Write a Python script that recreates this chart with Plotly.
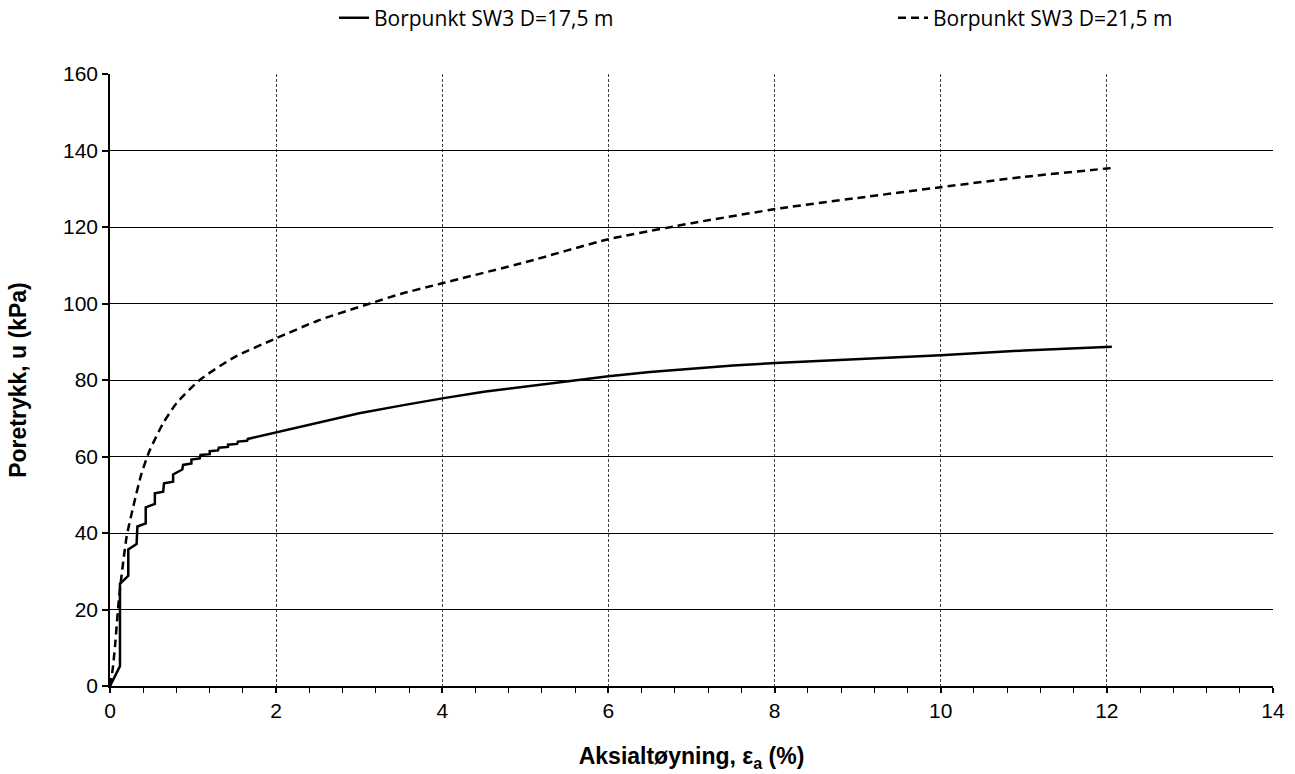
import plotly.graph_objects as go

# Series 1: Borpunkt SW3 D=17,5 m (solid, step-like at start)
x_175 = [0.0, 0.12, 0.12, 0.22, 0.22, 0.32, 0.33, 0.43, 0.43, 0.54, 0.54, 0.64, 0.65,
         0.76, 0.76, 0.87, 0.88, 0.98, 0.98, 1.08, 1.09, 1.20, 1.20, 1.30, 1.31, 1.42,
         1.42, 1.53, 1.54, 1.65, 1.66, 2.0, 2.5, 3.0, 3.5, 4.0, 4.5, 5.0, 5.58, 6.0,
         6.5, 7.0, 7.5, 8.07, 9.0, 10.0, 11.0, 12.0, 12.06]
u_175 = [0.0, 5.2, 26.7, 28.8, 35.7, 37.1, 41.7, 42.5, 46.7, 47.6, 50.4, 50.8, 53.0,
         53.4, 55.3, 56.6, 57.8, 58.2, 59.2, 59.5, 60.4, 60.6, 61.4, 61.6, 62.3, 62.5,
         63.1, 63.3, 63.9, 64.1, 64.6, 66.3, 68.9, 71.3, 73.3, 75.2, 76.9, 78.3, 80.0, 81.0,
         82.1, 83.0, 83.8, 84.5, 85.4, 86.5, 87.7, 88.6, 88.7]

# Series 2: Borpunkt SW3 D=21,5 m (dashed)
x_215 = [0.0, 0.03, 0.06, 0.11, 0.20, 0.28, 0.38, 0.48, 0.64, 0.80, 1.08, 1.5, 2.0, 2.5,
         3.13, 3.5, 4.0, 5.0, 6.0, 6.78, 7.0, 8.07, 9.0, 10.0, 11.0, 12.0, 12.1]
u_215 = [0.0, 4.0, 10.3, 23.3, 39.0, 46.9, 55.6, 61.7, 68.7, 73.9, 80.0, 86.0, 90.9, 95.5,
         100.0, 102.5, 105.3, 110.8, 116.8, 120.1, 121.0, 124.9, 127.6, 130.4, 133.1, 135.3, 135.5]

names = ["Borpunkt SW3 D=17,5 m", "Borpunkt SW3 D=21,5 m"]

x_ticks = [0, 2, 4, 6, 8, 10, 12, 14]
y_ticks = [0, 20, 40, 60, 80, 100, 120, 140, 160]

fig = go.Figure()
fig.add_trace(go.Scatter(x=x_175, y=u_175, mode="lines", name=names[0],
                         line=dict(color="black", width=2.5)))
fig.add_trace(go.Scatter(x=x_215, y=u_215, mode="lines", name=names[1],
                         line=dict(color="black", width=2.5, dash="8px,5px", shape="spline", smoothing=0.6)))

tickfont = dict(family="Arial, Liberation Sans, sans-serif", size=21, color="black")
titlefont = dict(family="Arial, Liberation Sans, sans-serif", size=23, color="black")

fig.update_layout(
    width=1295, height=774,
    margin=dict(l=110, r=22, t=74, b=88, autoexpand=False),
    paper_bgcolor="white", plot_bgcolor="white",
    showlegend=True,
    legend=dict(orientation="h", x=0.1926, xanchor="left", y=1.0915, yanchor="middle",
                font=dict(family="Open Sans, Noto Sans, sans-serif", size=21, color="black"),
                entrywidth=514, entrywidthmode="pixels", bgcolor="rgba(0,0,0,0)"),
    xaxis=dict(range=[0, 14], tickvals=x_ticks, ticktext=[str(v) for v in x_ticks],
               showgrid=True, gridcolor="#444444", gridwidth=1, griddash="3px,2px",
               showline=True, linecolor="black", linewidth=1.5, zeroline=False,
               ticks="outside", ticklen=5, tickwidth=1.5, tickcolor="black",
               minor=dict(dtick=0.4, tick0=0, ticks="outside", ticklen=5, tickwidth=1, tickcolor="black", showgrid=False),
               tickfont=tickfont,
               title=dict(text="<b>Aksialtøyning, ε<sub>a</sub> (%)</b>", font=titlefont, standoff=27)),
    xaxis2=dict(range=[0, 14], overlaying="x", anchor="y", side="bottom", tickvals=x_ticks,
                showticklabels=False, showgrid=False, showline=False, zeroline=False,
                ticks="inside", ticklen=5, tickwidth=1.5, tickcolor="black",
                minor=dict(dtick=0.4, tick0=0, ticks="inside", ticklen=5, tickwidth=1, tickcolor="black", showgrid=False)),
    yaxis=dict(range=[0, 160], tickvals=y_ticks, ticktext=[str(v) for v in y_ticks],
               showgrid=True, gridcolor="black", gridwidth=1,
               showline=True, linecolor="black", linewidth=1.5, zeroline=False,
               ticks="outside", ticklen=6, tickwidth=1.5, tickcolor="black",
               tickfont=tickfont,
               title=dict(text="<b>Poretrykk, u (kPa)</b>", font=titlefont, standoff=30)),
)

# remove the page's default 8px body margin so the figure fills the window exactly
fig.write_html("out.html", config={"displayModeBar": False},
               post_script="document.body.style.margin='0';")
